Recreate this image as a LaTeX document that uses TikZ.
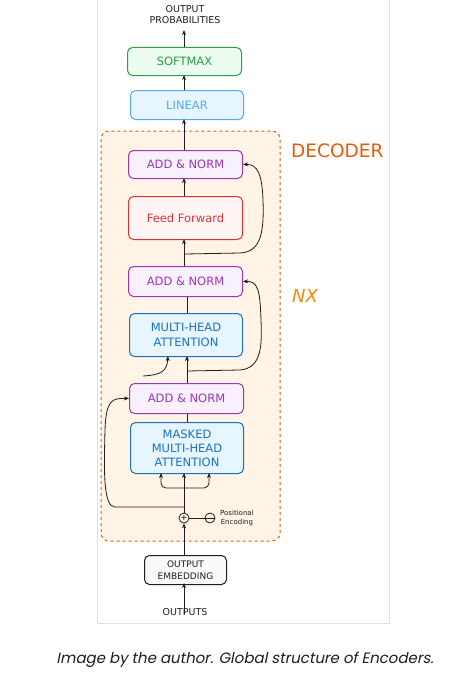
\documentclass[tikz,border=0pt]{standalone}
\usepackage{fontspec}
\setmainfont{DejaVu Sans}
\newfontfamily\capfont[FakeSlant=0.2]{Poppins}
\usetikzlibrary{arrows.meta}
\definecolor{smfill}{HTML}{EBFBEE}\definecolor{smdraw}{HTML}{2F9E44}
\definecolor{lnfill}{HTML}{E7F5FF}\definecolor{lndraw}{HTML}{4DABF7}
\definecolor{anfill}{HTML}{F8F0FC}\definecolor{andraw}{HTML}{9C36B5}
\definecolor{fffill}{HTML}{FFF5F5}\definecolor{ffdraw}{HTML}{E03131}
\definecolor{mhfill}{HTML}{E7F5FF}\definecolor{mhdraw}{HTML}{1971C2}
\definecolor{decfill}{HTML}{FFF4E6}\definecolor{decdraw}{HTML}{E8590C}
\definecolor{nxcol}{HTML}{F08C00}
\definecolor{embfill}{HTML}{F8F9FA}
\definecolor{ink}{HTML}{1E1E1E}
\tikzset{
  blk/.style={rounded corners=5pt, line width=1pt, align=center, inner sep=0pt, font=\fontsize{11.5}{14.5}\selectfont, anchor=north west},
  arr/.style={draw=ink, line width=0.8pt, -{Stealth[length=5pt,width=4pt]}},
  ln/.style={draw=ink, line width=0.8pt},
  lbl/.style={font=\fontsize{9.5}{11}\selectfont, text=ink, align=center, inner sep=0pt}
}
\begin{document}
\begin{tikzpicture}[x=1pt,y=-1pt]
\useasboundingbox (0,0) rectangle (461,677);
\fill[white] (0,0) rectangle (461,677);
\draw[black!12, line width=0.8pt] (97,-2) rectangle (389,623);
% decoder frame
\draw[decdraw, fill=decfill, dashed, line width=1pt, rounded corners=8pt] (101,131) rectangle (280,541);
\node[text=decdraw, font=\fontsize{18.5}{18}\selectfont, anchor=west, inner sep=0pt] (dec) at (291,151) {DECODER};
\node[text=nxcol, font=\fontsize{18}{18}\selectfont\itshape, anchor=west, inner sep=0pt] (nx) at (292,296) {NX};
% top
\node[lbl] (prob) at (185,15) {OUTPUT\\PROBABILITIES};
\node[blk, draw=smdraw, fill=smfill, text=smdraw, minimum width=114pt, minimum height=28pt] (sm) at (127,47) {SOFTMAX};
\node[blk, draw=lndraw, fill=lnfill, text=lndraw, minimum width=113pt, minimum height=29pt] (lin) at (130,90) {LINEAR};
\node[blk, draw=andraw, fill=anfill, text=andraw, minimum width=114pt, minimum height=28pt] (an3) at (128,150) {ADD \& NORM};
\node[blk, draw=ffdraw, fill=fffill, text=ffdraw, minimum width=114pt, minimum height=43pt] (ff) at (128,196) {Feed Forward};
\node[blk, draw=andraw, fill=anfill, text=andraw, minimum width=114pt, minimum height=30pt] (an2) at (128,266) {ADD \& NORM};
\node[blk, draw=mhdraw, fill=mhfill, text=mhdraw, minimum width=113pt, minimum height=43pt] (mha) at (129,313) {MULTI-HEAD\\ATTENTION};
\node[blk, draw=andraw, fill=anfill, text=andraw, minimum width=114pt, minimum height=30pt] (an1) at (129,383) {ADD \& NORM};
\node[blk, draw=mhdraw, fill=mhfill, text=mhdraw, minimum width=113pt, minimum height=51pt, font=\fontsize{11.5}{14}\selectfont] (mmha) at (130,422) {MASKED\\MULTI-HEAD\\ATTENTION};
\node[blk, draw=ink, fill=embfill, text=ink, minimum width=82pt, minimum height=29pt, font=\fontsize{9}{12}\selectfont] (emb) at (144,555) {OUTPUT\\EMBEDDING};
\node[lbl] (outs) at (185,612) {OUTPUTS};
% positional encoding
\node[draw=ink, circle, line width=0.8pt, minimum size=10pt, inner sep=0pt, font=\fontsize{8}{8}\selectfont] (plus) at (184,518) {+};
\node[draw=ink, circle, line width=0.8pt, minimum size=10pt, inner sep=0pt] (pe) at (210,518) {};
\draw[ink, line width=0.8pt] (pe.west) -- (pe.east);
\node[font=\fontsize{7}{9}\selectfont, text=ink, align=center, inner sep=0pt, anchor=west] (petxt) at (220,518) {Positional\\Encoding};
\draw[ln] (plus) -- (pe);
% coordinates
\coordinate (pSm) at (184,30);
\coordinate (f1) at (185,488);
\coordinate (fork) at (184,507);
\coordinate (r2) at (187,371);
\coordinate (r3) at (185,254);
\coordinate (lstart) at (143,376);
% connectors
\draw[arr] (sm.north -| pSm) -- (pSm);
\draw[arr] (lin.north -| pSm) -- ([yshift=1pt]sm.south -| pSm);
\draw[arr] (an3.north -| pSm) -- ([yshift=1pt]lin.south -| pSm);
\draw[arr] (ff.north -| pSm) -- ([yshift=1pt]an3.south -| pSm);
\draw[arr] (an2.north -| pSm) -- ([yshift=1pt]ff.south -| pSm);
\draw[ln] (mha.north -| r2) -- (an2.south -| r2);
\draw[arr] (an1.north -| r2) -- ([yshift=1pt]mha.south -| r2);
\draw[ln] (mmha.north -| r2) -- (an1.south -| r2);
\draw[arr] (emb.north -| plus) -- (plus.south);
\draw[arr] (plus.north) -- ([yshift=1pt]mmha.south -| plus);
\draw[arr] ([yshift=-6pt]outs.north -| plus) -- ([yshift=2pt]emb.south -| plus);
% fork into masked attention
\draw[arr, rounded corners=5pt] (f1) -- (161,488) -- ([yshift=1pt]mmha.south -| 161,0);
\draw[arr, rounded corners=5pt] (f1) -- (209,488) -- ([yshift=1pt]mmha.south -| 209,0);
% residuals
\draw[arr] (fork) -- (115,507) .. controls (103,507) and (104,470) .. (105,430) .. controls (106,400) and (112,398) .. (an1.west);
\draw[arr] (r2) -- (240,370) .. controls (262,368) and (262,345) .. (261,320) .. controls (260,290) and (258,281) .. (an2.east);
\draw[arr] (r3) -- (240,253) .. controls (262,252) and (264,230) .. (263,200) .. controls (262,175) and (258,164) .. (an3.east);
\draw[arr] (lstart) .. controls (160,375) and (167,372) .. ([yshift=1pt]mha.south -| 168,0);
% caption
\node[font=\capfont\fontsize{15}{18}\selectfont, text=ink, inner sep=0pt] (cap) at (245,660) {Image by the author. Global structure of Encoders.};
\end{tikzpicture}
\end{document}
